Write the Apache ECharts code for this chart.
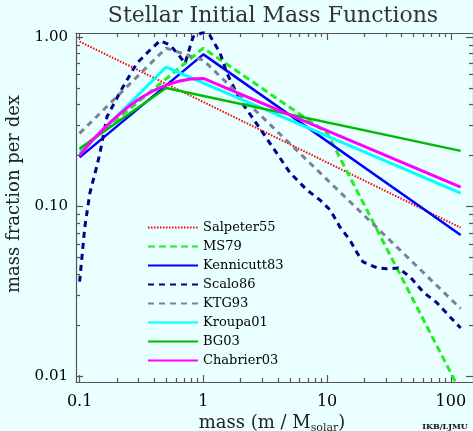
<!DOCTYPE html>
<html><head><meta charset="utf-8">
<script src="https://cdn.jsdelivr.net/npm/echarts@6/dist/echarts.min.js"></script>
<style>html,body{margin:0;padding:0;background:#eaffff}#c{width:473px;height:431px}</style>
</head><body><div id="c"></div>
<script>
// ---- data ----
const seriesNames = ['Salpeter55','MS79','Kennicutt83','Scalo86','KTG93','Kroupa01','BG03','Chabrier03'];

const salpeterM = [0.1, 120];
const salpeterF = [0.94, 0.075];

const ms79M = [0.1, 1, 10, 125];
const ms79F = [0.215, 0.86, 0.272, 0.0076];

const kennicuttM = [0.1, 1, 120];
const kennicuttF = [0.195, 0.79, 0.068];

const scaloM = [0.1, 0.11, 0.121, 0.1375, 0.146, 0.1665, 0.2244, 0.29, 0.371, 0.447, 0.538, 0.648, 0.712, 0.781, 0.825, 1.0, 1.12, 1.365, 1.546, 1.98, 2.45, 3.04, 5.02, 6.89, 8.78, 10.6, 12.7, 15.3, 17.5, 19.5, 25.4, 30.5, 37.5, 46.9, 59.7, 77.4, 98.7, 120];
const scaloF = [0.036, 0.075, 0.12, 0.172, 0.207, 0.339, 0.509, 0.70, 0.838, 0.951, 0.897, 0.765, 0.70, 0.877, 1.0, 1.07, 1.03, 0.805, 0.613, 0.425, 0.34, 0.271, 0.158, 0.125, 0.109, 0.0953, 0.0757, 0.0634, 0.0532, 0.0471, 0.0434, 0.0429, 0.0434, 0.0384, 0.0313, 0.027, 0.0223, 0.0192];

const ktgM = [0.1, 0.5, 1, 120];
const ktgF = [0.27, 0.86, 0.73, 0.025];

const kroupaM = [0.1, 0.5, 120];
const kroupaF = [0.205, 0.665, 0.12];

const bgM = [0.1, 0.5, 120];
const bgF = [0.22, 0.5, 0.213];

const chabrierM = [0.1, 0.126, 0.158, 0.2, 0.25, 0.316, 0.4, 0.5, 0.63, 0.79, 1, 120];
const chabrierF = [0.2, 0.245, 0.29, 0.34, 0.39, 0.44, 0.485, 0.52, 0.548, 0.565, 0.57, 0.13];

const xTickValues = [0.1, 1, 10, 100];
const xTickLabels = ['0.1', '1', '10', '100'];
const xMinorValues = [0.2,0.3,0.4,0.5,0.6,0.7,0.8,0.9, 2,3,4,5,6,7,8,9, 20,30,40,50,60,70,80,90];
const yTickValues = [0.01, 0.1, 1];
const yTickLabels = ['0.01', '0.10', '1.00'];
const yMinorValues = [0.02,0.03,0.04,0.05,0.06,0.07,0.08,0.09, 0.2,0.3,0.4,0.5,0.6,0.7,0.8,0.9];

// ---- layout / style ----
const XMIN = 0.0935, XMAX = 151, YMIN = 0.00922, YMAX = 1.056;
const lg = Math.log10;
const FONT = "'DejaVu Serif', 'Liberation Serif', serif";
const FRAME = '#555';

const pairs = (ms, fs) => ms.map((m, i) => [m, fs[i]]);

function labelFor(vals, labels) {
  return v => {
    for (let i = 0; i < vals.length; i++) if (Math.abs(lg(vals[i]) - v) < 1e-6) return labels[i];
    return '';
  };
}

function tickAxis(pos, lo, hi, vals, len, labelVals, labels, line, fs, margin) {
  return {
    type: 'value', position: pos, min: lg(lo), max: lg(hi), offset: 0,
    axisLine: { show: line, onZero: false, lineStyle: { color: FRAME, width: 1.2 } },
    axisTick: { show: true, inside: true, length: len, customValues: vals.map(lg), lineStyle: { color: FRAME, width: 1.2 } },
    axisLabel: labelVals ? { show: true, customValues: labelVals.map(lg), formatter: labelFor(labelVals, labels),
      fontFamily: FONT, fontSize: fs, color: '#000', margin: margin } : { show: false },
    splitLine: { show: false }, minorTick: { show: false }, minorSplitLine: { show: false }
  };
}

const xAxes = [
  { type: 'log', min: XMIN, max: XMAX, show: false, axisLine: { onZero: false } },
  tickAxis('bottom', XMIN, XMAX, xTickValues, 7, xTickValues, xTickLabels, true, 16, 12),
  tickAxis('bottom', XMIN, XMAX, xMinorValues, 4, null, null, false),
  tickAxis('top', XMIN, XMAX, xTickValues, 7, null, null, true),
  tickAxis('top', XMIN, XMAX, xMinorValues, 4, null, null, false)
];
const yAxes = [
  { type: 'log', min: YMIN, max: YMAX, show: false, axisLine: { onZero: false } },
  tickAxis('left', YMIN, YMAX, yTickValues, 7, yTickValues, yTickLabels, true, 15, 8),
  tickAxis('left', YMIN, YMAX, yMinorValues, 4, null, null, false),
  tickAxis('right', YMIN, YMAX, yTickValues, 7, null, null, true),
  tickAxis('right', YMIN, YMAX, yMinorValues, 4, null, null, false)
];

function line(name, ms, fs, color, width, type) {
  return {
    name, type: 'line', xAxisIndex: 0, yAxisIndex: 0, data: pairs(ms, fs),
    symbol: 'none', showSymbol: false, clip: true, silent: true,
    lineStyle: { color, width, type, cap: 'butt' }, itemStyle: { color }
  };
}

const series = [
  line('Salpeter55', salpeterM, salpeterF, '#ff0000', 2, [1.5, 1.5]),
  line('MS79', ms79M, ms79F, '#22ee22', 3, [7, 4]),
  line('Kennicutt83', kennicuttM, kennicuttF, '#0000ff', 2.5, 'solid'),
  line('Scalo86', scaloM, scaloF, '#000088', 3, [6, 5]),
  line('KTG93', ktgM, ktgF, '#7a8294', 3, [6, 5]),
  line('Kroupa01', kroupaM, kroupaF, '#00ffff', 3, 'solid'),
  line('BG03', bgM, bgF, '#00bb00', 2.5, 'solid'),
  line('Chabrier03', chabrierM, chabrierF, '#ff00ff', 3, 'solid')
];

const chart = echarts.init(document.getElementById('c'), null, { renderer: 'canvas' });
chart.setOption({
  animation: false,
  backgroundColor: '#eaffff',
  grid: { left: 76, right: 0, top: 33, bottom: 49, containLabel: false, outerBoundsMode: 'none' },
  xAxis: xAxes,
  yAxis: yAxes,
  legend: {
    data: seriesNames, orient: 'vertical', left: 142, top: 216,
    itemWidth: 50, itemHeight: 14, itemGap: 6, selectedMode: false,
    itemStyle: { opacity: 0 },
    textStyle: { fontFamily: FONT, fontSize: 13, color: '#000' }
  },
  series,
  graphic: [
    { type: 'text', x: 273, y: 16, silent: true,
      style: { text: 'Stellar Initial Mass Functions', font: "22px " + FONT, fill: '#333', align: 'center', verticalAlign: 'middle', textAlign: 'center', textVerticalAlign: 'middle' } },
    { type: 'text', x: 14, y: 194, rotation: Math.PI / 2, silent: true,
      style: { text: 'mass fraction per dex', font: "18px " + FONT, fill: '#222', align: 'center', verticalAlign: 'middle', textAlign: 'center', textVerticalAlign: 'middle' } },
    { type: 'text', x: 272, y: 423, silent: true,
      style: { text: '{a|mass (m / M}{s|solar}{a|)}', fill: '#222', align: 'center', verticalAlign: 'middle', textAlign: 'center', textVerticalAlign: 'middle',
        rich: { a: { fontFamily: FONT, fontSize: 18, lineHeight: 21, verticalAlign: 'middle', fill: '#222' },
                s: { fontFamily: FONT, fontSize: 11, lineHeight: 21, verticalAlign: 'bottom', fill: '#222' } } } },
    { type: 'text', x: 445, y: 427, silent: true,
      style: { text: 'IKB/LJMU', font: "bold 8px " + FONT, fill: '#111', align: 'center', verticalAlign: 'middle', textAlign: 'center', textVerticalAlign: 'middle' } }
  ]
});
</script></body></html>
